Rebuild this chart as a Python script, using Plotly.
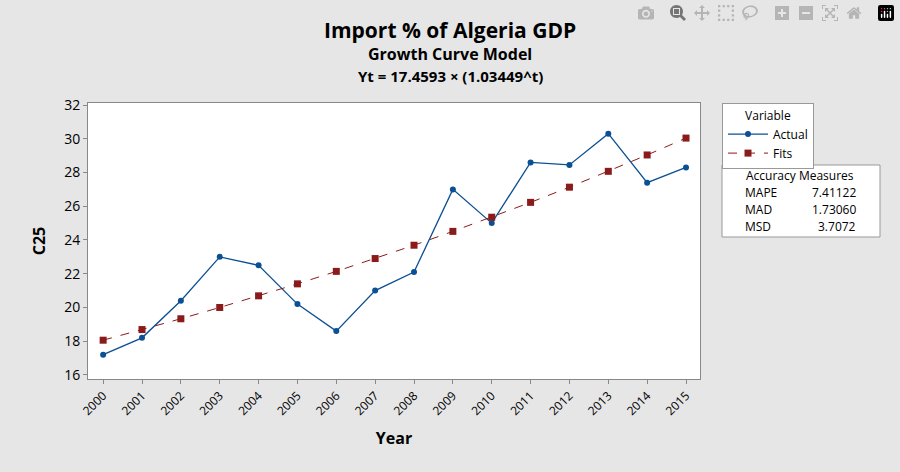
import plotly.graph_objects as go

years = list(range(2000, 2016))
actual = [17.2, 18.2, 20.4, 23.0, 22.5, 20.2, 18.6, 21.0, 22.1, 27.0, 25.0, 28.6, 28.45, 30.3, 27.4, 28.3]
fits = [18.06, 18.69, 19.33, 20.00, 20.69, 21.40, 22.14, 22.90, 23.69, 24.51, 25.35, 26.23, 27.13, 28.07, 29.04, 30.04]
y_ticks = [16, 18, 20, 22, 24, 26, 28, 30, 32]
measures = [("MAPE", "7.41122"), ("MAD", "1.73060"), ("MSD", "3.7072")]

F = "Open Sans, DejaVu Sans, sans-serif"
L, R, T, B = 88, 200, 103, 93
pw, ph = 900 - L - R, 472 - T - B
def px(x): return (x - L) / pw
def py(y): return (472 - B - y) / ph

fig = go.Figure()
fig.add_trace(go.Scatter(x=years, y=actual, name="Actual", mode="lines+markers",
                         line=dict(color="#0b4f94", width=1.3), marker=dict(size=6, color="#0b4f94")))
fig.add_trace(go.Scatter(x=years, y=fits, name="Fits", mode="lines+markers",
                         line=dict(color="#8b1a1a", width=1, dash="dash"),
                         marker=dict(size=7, symbol="square", color="#8b1a1a")))
fig.update_layout(
    width=900, height=472, paper_bgcolor="#e6e6e6", plot_bgcolor="white",
    margin=dict(l=L, r=R, t=T, b=B),
    font=dict(family=F, color="black", size=13),
    showlegend=True,
    legend=dict(x=px(722), y=1.0, xanchor="left", yanchor="top", bgcolor="white",
                bordercolor="#999", borderwidth=1, font=dict(size=12),
                title=dict(text="Variable", side="top center", font=dict(size=12)),
                entrywidth=128, tracegroupgap=0, itemwidth=40),
    xaxis=dict(range=[1999.61, 2015.36], tickvals=years, tickangle=-45, ticks="outside",
               ticklen=4, tickcolor="#888", showgrid=False, linecolor="#888", mirror=True,
               zeroline=False, tickfont=dict(size=12),
               title=dict(text="<b>Year</b>", font=dict(size=16), standoff=14)),
    yaxis=dict(range=[15.76, 32.12], tickvals=y_ticks, ticks="outside", ticklen=4,
               tickcolor="#888", showgrid=False, linecolor="#888", mirror=True, zeroline=False,
               tickfont=dict(size=14), title=dict(text="<b>C25</b>", font=dict(size=16), standoff=14)),
)
titles = [("<b>Import % of Algeria GDP</b>", 30, 21),
          ("<b>Growth Curve Model</b>", 54, 16),
          ("<b>Yt = 17.4593 × (1.03449^t)</b>", 76, 15)]
for t, yy, s in titles:
    fig.add_annotation(text=t, xref="paper", yref="paper", x=px(450), y=py(yy), yanchor="middle",
                       xanchor="center", showarrow=False, font=dict(size=s))
fig.add_shape(type="rect", xref="paper", yref="paper",
              x0=px(722), x1=px(880), y0=py(237), y1=py(165),
              fillcolor="white", line=dict(color="#999", width=1))
fig.add_annotation(text="Accuracy Measures", xref="paper", yref="paper", x=px(800), y=py(175),
                   yanchor="middle", xanchor="center", showarrow=False, font=dict(size=12))
for i, (k, v) in enumerate(measures):
    yy = py(192 + i * 17)
    fig.add_annotation(text=k, xref="paper", yref="paper", x=px(743), y=yy, xanchor="left",
                       yanchor="middle", showarrow=False, font=dict(size=12))
    fig.add_annotation(text=v, xref="paper", yref="paper", x=px(858), y=yy, xanchor="right",
                       yanchor="middle", showarrow=False, font=dict(size=12))
fig.write_html("out.html", post_script="document.body.style.margin='0';")
